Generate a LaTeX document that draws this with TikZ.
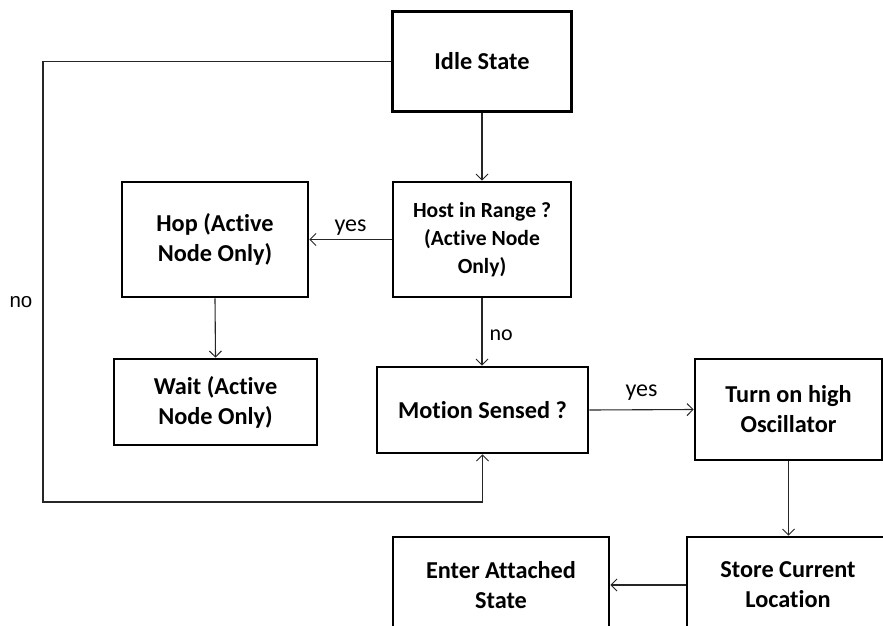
\documentclass[tikz,border=0pt]{standalone}
\usepackage{fontspec}
\setmainfont{Carlito}[Ligatures=CommonOff]
\newfontfamily\labelsans{Liberation Sans}
\usetikzlibrary{arrows.meta}
\begin{document}
\begin{tikzpicture}[x=1pt,y=-1pt,
  box/.style={draw=black,line width=2.6pt,fill=white,align=center,inner sep=0pt,
    font=\fontsize{24.3}{30}\selectfont\bfseries},
  smallbox/.style={box,font=\fontsize{21.6}{28}\selectfont\bfseries},
  arr/.style={draw=black!85,line width=1.1pt,-{Straight Barb[length=6pt,width=12pt,line width=1pt]}},
  lbl/.style={font=\fontsize{24}{28}\selectfont,inner sep=0pt}]
\clip (0,0) rectangle (883,626);
\fill[white] (0,0) rectangle (883,626);

% process boxes
\node[box,minimum width=179pt,minimum height=100pt] (idle) at (482,61.5) {Idle State};
\node[smallbox,minimum width=178pt,minimum height=115pt] (host) at (482,239.5) {Host in Range ?\\(Active Node\\Only)};
\node[box,minimum width=186pt,minimum height=115pt] (hop) at (215,239.5) {Hop (Active\\Node Only)};
\node[box,minimum width=203pt,minimum height=86pt] (wait) at (215.5,402) {Wait (Active\\Node Only)};
\node[box,minimum width=211pt,minimum height=86pt] (motion) at (482.5,410) {Motion Sensed ?};
\node[box,minimum width=187pt,minimum height=101pt] (turn) at (788.5,409.5) {Turn on high\\Oscillator};
\node[box,minimum width=202pt,minimum height=96pt] (store) at (788,585) {Store Current\\Location};
\node[box,minimum width=216pt,minimum height=96pt] (enter) at (501,585) {Enter Attached\\State};

% loop-back corner on the left
\coordinate (lc) at (43,502);

% connectors
\draw[arr] (idle.south) -- (host.north);
\draw[arr] (host.west) -- node[lbl,above=4pt] {yes} (hop.east);
\draw[arr] (hop.south) -- (wait.north);
\draw[arr] (host.south) -- node[lbl,font=\fontsize{22}{26}\selectfont,right=7pt,pos=0.55] {no} (host.south |- motion.north);
\draw[arr] (motion.east) -- node[lbl,above=9pt] {yes} (turn.west);
\draw[arr] (turn.south) -- (turn.south |- store.north);
\draw[arr] (store.west) -- (enter.east);
\draw[arr] (idle.west) -| (lc) -| (motion.south);

\node[lbl,font=\labelsans\fontsize{20.5}{24}\selectfont] (nolbl) at (21,302) {no};
\end{tikzpicture}
\end{document}
